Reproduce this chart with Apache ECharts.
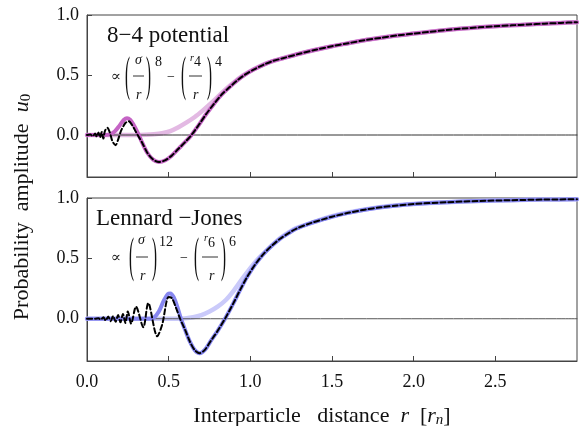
<!DOCTYPE html>
<html>
<head>
<meta charset="utf-8">
<script src="https://cdn.jsdelivr.net/npm/echarts@6/dist/echarts.min.js"></script>
<style>html,body{margin:0;padding:0;background:#fff;}#c{width:579px;height:426px;}</style>
</head>
<body>
<div id="c"></div>
<script>
// ---- data ----
var xTicks = [0, 0.5, 1.0, 1.5, 2.0, 2.5];
var yTicks = [0, 0.5, 1.0];

var topLight = [[0,0],[0.1,0],[0.2,0],[0.3,0],[0.36,0.002],[0.41,0.006],[0.46,0.015],[0.51,0.033],[0.56,0.065],[0.61,0.105],[0.66,0.15],[0.71,0.205],[0.76,0.265],[0.81,0.33],[0.86,0.395],[0.91,0.45],[0.96,0.5],[1.01,0.54],[1.06,0.575],[1.12,0.607],[1.2,0.64],[1.3,0.677],[1.4,0.71],[1.5,0.74],[1.6,0.765],[1.7,0.79],[1.8,0.81],[1.9,0.83],[2.0,0.845],[2.1,0.86],[2.2,0.875],[2.3,0.887],[2.4,0.897],[2.5,0.906],[2.6,0.914],[2.7,0.921],[2.8,0.928],[2.9,0.934],[3.0,0.94]];
var topDark = [[0,0],[0.05,0],[0.1,0],[0.14,0.005],[0.17,0.03],[0.2,0.08],[0.225,0.125],[0.245,0.14],[0.265,0.125],[0.285,0.085],[0.31,0.02],[0.34,-0.07],[0.37,-0.15],[0.405,-0.205],[0.44,-0.225],[0.48,-0.21],[0.52,-0.17],[0.56,-0.115],[0.6,-0.06],[0.64,0],[0.685,0.085],[0.73,0.175],[0.775,0.255],[0.82,0.33],[0.87,0.395],[0.92,0.455],[0.97,0.505],[1.02,0.545],[1.08,0.585],[1.14,0.617],[1.2,0.64],[1.3,0.677],[1.4,0.71],[1.5,0.74],[1.6,0.765],[1.7,0.79],[1.8,0.81],[1.9,0.83],[2.0,0.845],[2.1,0.86],[2.2,0.875],[2.3,0.887],[2.4,0.897],[2.5,0.906],[2.6,0.914],[2.7,0.921],[2.8,0.928],[2.9,0.934],[3.0,0.94]];
var topDashed = [[0,0],[0.02,0.005],[0.035,-0.01],[0.05,0.012],[0.06,-0.015],[0.07,0.02],[0.08,-0.02],[0.09,0.025],[0.1,-0.03],[0.11,0.035],[0.125,0.06],[0.14,0.02],[0.155,-0.05],[0.175,-0.085],[0.19,-0.04],[0.21,0.04],[0.235,0.1],[0.255,0.115],[0.275,0.085],[0.3,0.025],[0.34,-0.07],[0.37,-0.15],[0.405,-0.205],[0.44,-0.225],[0.48,-0.21],[0.52,-0.17],[0.56,-0.115],[0.6,-0.06],[0.64,0],[0.685,0.085],[0.73,0.175],[0.775,0.255],[0.82,0.33],[0.87,0.395],[0.92,0.455],[0.97,0.505],[1.02,0.545],[1.08,0.585],[1.14,0.617],[1.2,0.64],[1.3,0.677],[1.4,0.71],[1.5,0.74],[1.6,0.765],[1.7,0.79],[1.8,0.81],[1.9,0.83],[2.0,0.845],[2.1,0.86],[2.2,0.875],[2.3,0.887],[2.4,0.897],[2.5,0.906],[2.6,0.914],[2.7,0.921],[2.8,0.928],[2.9,0.934],[3.0,0.94]];

var botLight = [[0,0],[0.2,0],[0.4,0],[0.55,0],[0.6,0.003],[0.65,0.012],[0.7,0.03],[0.75,0.06],[0.8,0.1],[0.85,0.155],[0.9,0.235],[0.95,0.33],[1.0,0.42],[1.04,0.485],[1.08,0.54],[1.13,0.605],[1.18,0.665],[1.23,0.71],[1.28,0.75],[1.365,0.79],[1.45,0.83],[1.5,0.85],[1.6,0.88],[1.7,0.905],[1.8,0.925],[1.9,0.94],[2.0,0.95],[2.2,0.965],[2.4,0.975],[2.6,0.982],[2.8,0.987],[3.0,0.99]];
var botDark = [[0,0],[0.2,0],[0.38,0],[0.41,0.01],[0.44,0.06],[0.47,0.15],[0.495,0.205],[0.51,0.21],[0.53,0.18],[0.555,0.09],[0.575,0],[0.6,-0.09],[0.63,-0.19],[0.66,-0.26],[0.69,-0.285],[0.72,-0.26],[0.76,-0.18],[0.8,-0.1],[0.845,0],[0.895,0.125],[0.94,0.245],[0.98,0.345],[1.03,0.45],[1.08,0.535],[1.13,0.603],[1.18,0.66],[1.23,0.705],[1.28,0.745],[1.365,0.79],[1.45,0.825],[1.5,0.845],[1.6,0.877],[1.7,0.903],[1.8,0.923],[1.9,0.938],[2.0,0.95],[2.2,0.965],[2.4,0.975],[2.6,0.982],[2.8,0.987],[3.0,0.99]];
var botDashed = [[0,0],[0.05,0],[0.07,0.005],[0.085,-0.008],[0.1,0.012],[0.115,-0.015],[0.13,0.018],[0.145,-0.02],[0.16,0.022],[0.175,-0.025],[0.19,0.03],[0.205,-0.03],[0.22,0.04],[0.235,-0.035],[0.25,0.06],[0.27,-0.04],[0.3,0.1],[0.345,-0.07],[0.375,0.13],[0.43,-0.145],[0.46,-0.05],[0.5,0.18],[0.52,0.17],[0.545,0.09],[0.57,0],[0.6,-0.09],[0.63,-0.19],[0.66,-0.26],[0.69,-0.285],[0.72,-0.26],[0.76,-0.18],[0.8,-0.1],[0.845,0],[0.895,0.125],[0.94,0.245],[0.98,0.345],[1.03,0.45],[1.08,0.535],[1.13,0.603],[1.18,0.66],[1.23,0.705],[1.28,0.745],[1.365,0.79],[1.45,0.825],[1.5,0.845],[1.6,0.877],[1.7,0.903],[1.8,0.923],[1.9,0.938],[2.0,0.95],[2.2,0.965],[2.4,0.975],[2.6,0.982],[2.8,0.987],[3.0,0.99]];
var zeroLine = [[0,0],[3,0]];

// ---- chart ----
var SERIF = '"Liberation Serif","DejaVu Serif",serif';
var axisColor = '#444';
function xAx(idx, labels){
  return {type:'value', gridIndex:idx, min:0, max:3,
    axisLine:{show:true, onZero:false, lineStyle:{color:axisColor, width:1}},
    axisTick:{show:true, inside:true, length:5, customValues:xTicks, lineStyle:{color:axisColor}},
    axisLabel:{show:labels, customValues:xTicks, formatter:function(v){return v.toFixed(1);}, color:'#111', fontFamily:SERIF, fontSize:18, margin:12},
    splitLine:{show:false}};
}
function yAx(idx){
  return {type:'value', gridIndex:idx, min:-0.35, max:1.0,
    axisLine:{show:true, onZero:false, lineStyle:{color:axisColor, width:1}},
    axisTick:{show:true, inside:true, length:5, customValues:yTicks, lineStyle:{color:axisColor}},
    axisLabel:{show:true, customValues:yTicks, formatter:function(v){return v.toFixed(1);}, color:'#111', fontFamily:SERIF, fontSize:18, margin:8},
    splitLine:{show:false}};
}
function ln(name, idx, data, color, width, dash, z){
  return {name:name, type:'line', xAxisIndex:idx, yAxisIndex:idx, data:data, smooth:0.3, showSymbol:false, symbol:'none', z:z,
    lineStyle:{color:color, width:width, type:dash||'solid', cap:'round', join:'round'}, silent:true, animation:false};
}
var purpleL = '#e3b9e3', purpleD = '#c564c5', blueL = '#cacafa', blueD = '#8787f0';

var graphics = [];
function txt(x, y, s, size, opts){
  var o = {type:'text', x:x, y:y, silent:true, style:{text:s, font:(opts&&opts.italic?'italic ':'')+size+'px '+SERIF, fill:'#111', textVerticalAlign:'middle', textAlign:(opts&&opts.align)||'left'}};
  if(opts && opts.scaleY){o.scaleY = opts.scaleY;}
  graphics.push(o);
}
function bar(x1, x2, y){
  graphics.push({type:'line', silent:true, shape:{x1:x1, y1:y, x2:x2, y2:y}, style:{stroke:'#333', lineWidth:1}});
}
// top annotation
txt(107, 36, '8\u22124 potential', 23);
txt(111, 77, '\u221d', 15);
txt(125, 77, '(', 15, {scaleY:3.2});
txt(135, 60, '\u03c3', 14, {italic:true});
bar(133, 144, 76);
txt(136, 95, 'r', 14, {italic:true});
txt(146, 77, ')', 15, {scaleY:3.2});
txt(155, 62, '8', 14);
txt(167, 77, '\u2212', 14);
txt(181, 77, '(', 15, {scaleY:3.2});
txt(190, 58, 'r', 10, {italic:true});
txt(194, 62, '4', 14);
bar(189, 202, 76);
txt(193, 95, 'r', 14, {italic:true});
txt(207, 77, ')', 15, {scaleY:3.2});
txt(215, 62, '4', 14);
// bottom annotation
txt(96, 219, 'Lennard \u2212Jones', 23);
txt(111, 258, '\u221d', 15);
txt(129, 258, '(', 15, {scaleY:3.2});
txt(138, 240, '\u03c3', 14, {italic:true});
bar(136, 148, 257);
txt(140, 276, 'r', 14, {italic:true});
txt(152, 258, ')', 15, {scaleY:3.2});
txt(159, 242, '12', 14);
txt(180, 258, '\u2212', 14);
txt(194, 258, '(', 15, {scaleY:3.2});
txt(204, 238, 'r', 10, {italic:true});
txt(208, 243, '6', 14);
bar(202, 218, 257);
txt(209, 276, 'r', 14, {italic:true});
txt(221, 258, ')', 15, {scaleY:3.2});
txt(229, 242, '6', 14);
// axis titles
graphics.push({type:'text', x:22, y:207, rotation:Math.PI/2, silent:true,
  style:{text:'Probability  amplitude  {i|u}{s|0}', rich:{i:{font:'italic 22px '+SERIF, fill:'#111'}, s:{font:'15px '+SERIF, fill:'#111', padding:[9,0,0,0]}}, font:'22px '+SERIF, fill:'#111', textAlign:'center', textVerticalAlign:'middle'}});
graphics.push({type:'text', x:322, y:416, silent:true,
  style:{text:'Interparticle   distance  {i|r}  [{i|r}{s|n}]', rich:{i:{font:'italic 22px '+SERIF, fill:'#111'}, s:{font:'italic 15px '+SERIF, fill:'#111', padding:[9,0,0,0]}}, font:'22px '+SERIF, fill:'#111', textAlign:'center', textVerticalAlign:'middle'}});

var chart = echarts.init(document.getElementById('c'), null, {renderer:'canvas'});
chart.setOption({
  animation:false,
  backgroundColor:'#fff',
  grid:[{left:87, top:15, width:490, height:162, show:true, borderColor:axisColor, borderWidth:1, backgroundColor:'transparent'},
        {left:87, top:198, width:490, height:163, show:true, borderColor:axisColor, borderWidth:1, backgroundColor:'transparent'}],
  xAxis:[xAx(0,false), xAx(1,true)],
  yAxis:[yAx(0), yAx(1)],
  series:[
    ln('topLight',0,topLight,purpleL,4.5,null,2),
    ln('topZero',0,zeroLine,'#333',1,null,3),
    ln('topDark',0,topDark,purpleD,4,null,4),
    ln('topDashed',0,topDashed,'#000',2,[5,3],5),
    ln('botLight',1,botLight,blueL,4.5,null,2),
    ln('botZero',1,zeroLine,'#555',1,null,3),
    ln('botDark',1,botDark,blueD,4,null,4),
    ln('botDashed',1,botDashed,'#000',2,[5,3],5)
  ],
  graphic:graphics
});
</script>
</body>
</html>
